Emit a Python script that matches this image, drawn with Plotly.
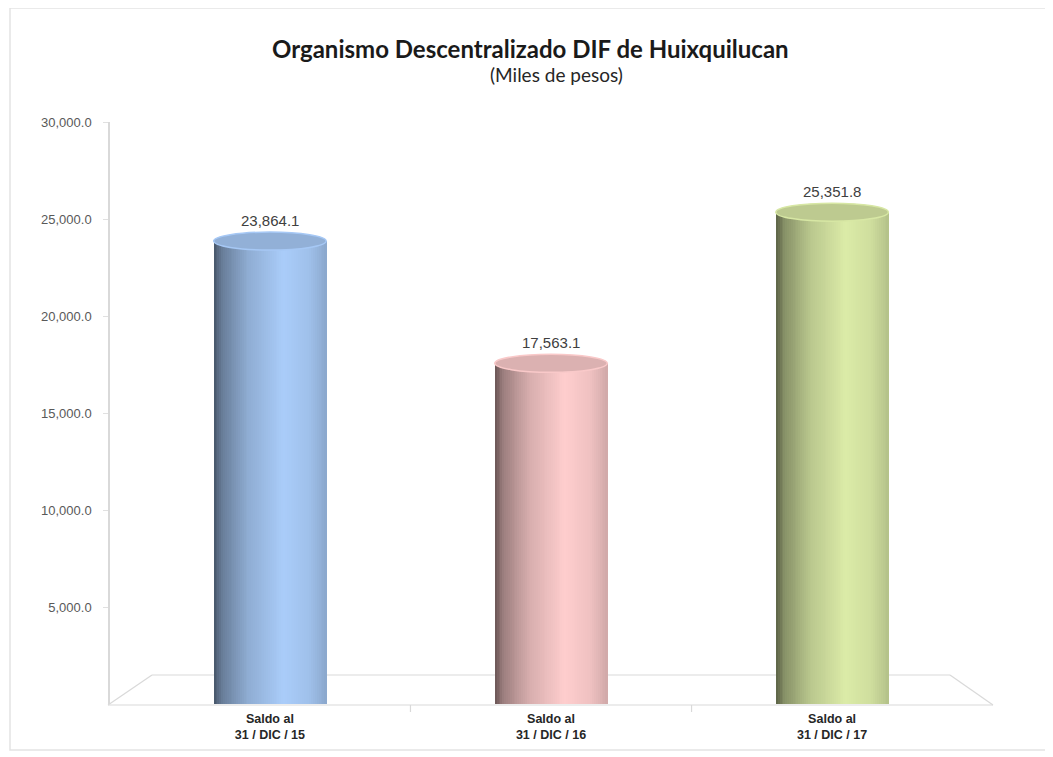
import numpy as np
import plotly.graph_objects as go

# ---- data ----
categories = ["Saldo al<br>31 / DIC / 15", "Saldo al<br>31 / DIC / 16", "Saldo al<br>31 / DIC / 17"]
values = [23864.1, 17563.1, 25351.8]
value_labels = ["23,864.1", "17,563.1", "25,351.8"]
y_tickvals = [5000, 10000, 15000, 20000, 25000, 30000]
title_text = "Organismo Descentralizado DIF de Huixquilucan"
subtitle_text = "(Miles de pesos)"

# ---- styling ----
peak_rgb = [(170, 205, 250), (255, 206, 206), (220, 236, 168)]
BAR_W = 0.40
N_SLICES = 60
prof_t = [0.0, 0.08, 0.30, 0.62, 0.85, 1.0]
prof_s = [0.42, 0.62, 0.84, 1.0, 0.94, 0.82]

def shade(rgb, s):
    return "rgb({},{},{})".format(*[int(max(0, min(255, c * s))) for c in rgb])

# page body has an 8px margin -> compensate so the picture lands where intended
OFF = 8
W, H = 1053, 757
L, T = 110 - OFF, 122 - OFF
B = 53 + OFF
R = 68 + OFF
pw, ph = W - L - R, H - T - B

def px_to_paper(px, py):
    """target screen pixel -> paper coords of the figure"""
    fx, fy = px - OFF, py - OFF
    return (fx - L) / pw, (H - B - fy) / ph

xs = list(range(len(categories)))
fig = go.Figure()

for k in range(N_SLICES):
    t = (k + 0.5) / N_SLICES
    s = float(np.interp(t, prof_t, prof_s))
    fig.add_trace(go.Bar(
        x=xs, y=values,
        width=BAR_W / N_SLICES * 1.3,
        offset=-BAR_W / 2 + k * BAR_W / N_SLICES,
        marker=dict(color=[shade(c, s) for c in peak_rgb], line=dict(width=0)),
        hoverinfo="skip", showlegend=False,
    ))

Y_MAX = 30000
dy = 9 / ph * Y_MAX

shapes = []
# floor (3D base)
floor_col = "#d9d9d9"
fl_x, _ = px_to_paper(108, 0)
fr_x, _ = px_to_paper(993, 0)
bl_x, _ = px_to_paper(152, 0)
br_x, _ = px_to_paper(950, 0)
_, front_y = px_to_paper(0, 705)
_, back_y = px_to_paper(0, 675)
for (x0, y0, x1, y1) in [(fl_x, front_y, fr_x, front_y), (bl_x, back_y, br_x, back_y),
                         (fl_x, front_y, bl_x, back_y), (fr_x, front_y, br_x, back_y)]:
    shapes.append(dict(type="line", xref="paper", yref="paper", x0=x0, y0=y0, x1=x1, y1=y1,
                       line=dict(color=floor_col, width=1.2), layer="below"))
_, tick_bot = px_to_paper(0, 712)
for b in [0.5, 1.5]:
    shapes.append(dict(type="line", xref="x", yref="paper", x0=b, x1=b, y0=front_y, y1=tick_bot,
                       line=dict(color=floor_col, width=1.2), layer="below"))

for i, v in enumerate(values):
    # top cap
    shapes.append(dict(type="circle", xref="x", yref="y",
                       x0=i - BAR_W / 2, x1=i + BAR_W / 2, y0=v - dy, y1=v + dy,
                       fillcolor=shade(peak_rgb[i], 0.86),
                       line=dict(color=shade(peak_rgb[i], 0.98), width=1.5), layer="above"))

annotations = []
for i, v in enumerate(values):
    annotations.append(dict(x=i, y=v, xref="x", yref="y", text=value_labels[i], showarrow=False,
                            yshift=21, font=dict(family="Liberation Sans, Arial", size=15, color="#404040")))

tx, ty = px_to_paper(530, 48)
annotations.append(dict(x=tx, y=ty, xref="paper", yref="paper", xanchor="center", yanchor="middle",
                        text="<b>" + title_text + "</b>", showarrow=False,
                        font=dict(family="Lato", size=24, color="#1a1a1a")))
sx, sy = px_to_paper(556, 74)
annotations.append(dict(x=sx, y=sy, xref="paper", yref="paper", xanchor="center", yanchor="middle",
                        text=subtitle_text, showarrow=False,
                        font=dict(family="Lato", size=19, color="#262626")))

# outer frame
f0x, f0y = px_to_paper(10, 8)
f1x, f1y = px_to_paper(1046, 750)
shapes.append(dict(type="rect", xref="paper", yref="paper",
                   x0=f0x, x1=f1x, y0=f1y, y1=f0y,
                   line=dict(color="#e3e3e3", width=1.5), layer="below"))

fig.update_layout(
    width=W, height=H,
    margin=dict(l=L, r=R, t=T, b=B),
    paper_bgcolor="white", plot_bgcolor="white",
    barmode="overlay", bargap=0,
    shapes=shapes, annotations=annotations,
    showlegend=False,
    xaxis=dict(range=[-0.569, 2.544], tickvals=xs, ticktext=["<b>" + c + "</b>" for c in categories],
               showgrid=False, zeroline=False, showline=False, ticks="",
               tickfont=dict(family="Liberation Sans, Arial", size=12.5, color="#262626"),
               ticklabelstandoff=5),
    yaxis=dict(range=[0, Y_MAX], tickvals=y_tickvals, tickformat=",.1f",
               showgrid=False, zeroline=False, showline=True, linecolor="#d9d9d9", linewidth=1.5,
               ticks="outside", ticklen=5, tickcolor="#e0e0e0",
               tickfont=dict(family="Liberation Sans, Arial", size=13, color="#595959"),
               ticklabelstandoff=9),
)

fig.write_html("out.html")
